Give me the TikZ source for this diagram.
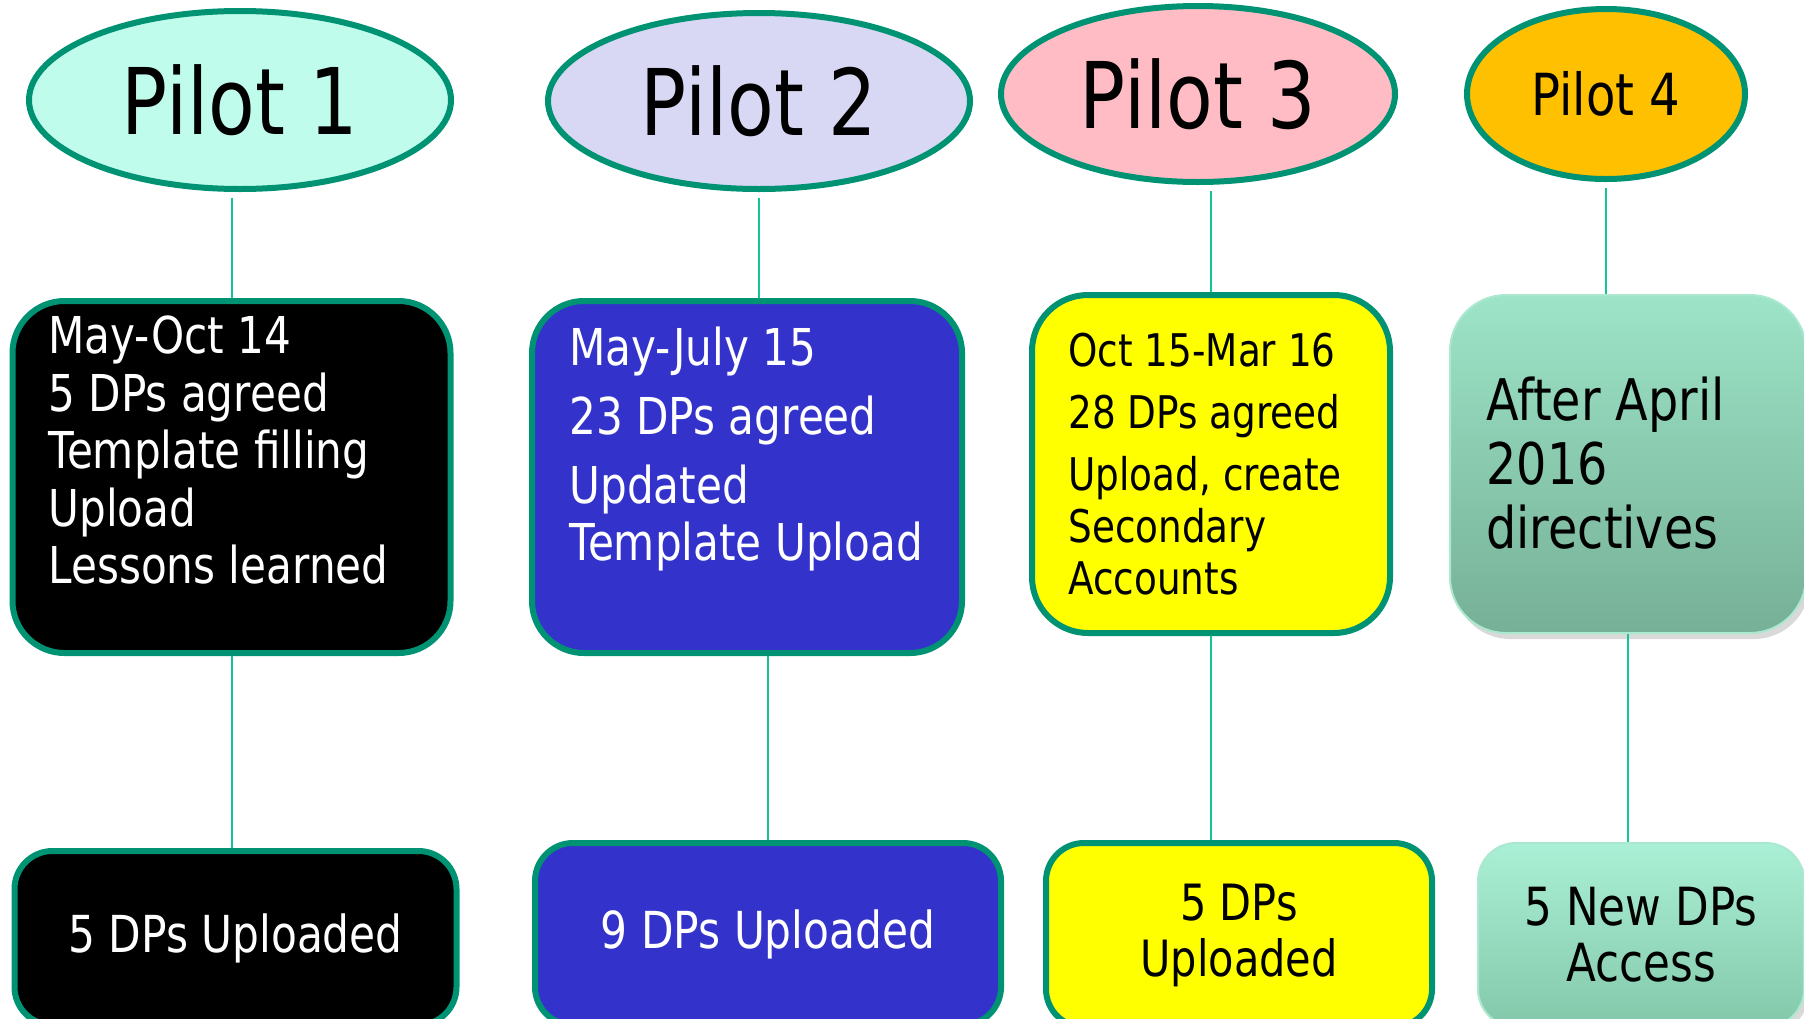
\documentclass[tikz,border=0pt]{standalone}
\usepackage{fontspec}
\setmainfont{DejaVu Sans}[FakeStretch=0.83]
\usetikzlibrary{shapes.geometric,shadows}

\definecolor{rimgreen}{RGB}{0,147,115}
\definecolor{linkteal}{RGB}{20,196,150}
\definecolor{pilotone}{RGB}{192,252,236}
\definecolor{pilottwo}{RGB}{216,216,244}
\definecolor{pilotthree}{RGB}{255,188,196}
\definecolor{pilotfour}{RGB}{255,192,0}
\definecolor{dpblue}{RGB}{51,51,204}
\definecolor{dpyellow}{RGB}{255,255,0}
\definecolor{mintedge}{RGB}{170,232,208}
\definecolor{minttop}{RGB}{157,228,200}
\definecolor{mintbot}{RGB}{118,176,150}
\definecolor{palemint}{RGB}{170,240,214}
\definecolor{deepmint}{RGB}{132,200,170}

\tikzset{
  pilot/.style={ellipse,draw=rimgreen,line width=3pt,inner sep=0pt},
  stage/.style={rectangle,rounded corners=26pt,draw=rimgreen,line width=3pt},
  result/.style={rectangle,rounded corners=19pt,draw=rimgreen,line width=3pt,align=center},
  notes/.style={anchor=west,align=left,inner sep=0pt},
  link/.style={draw=linkteal,line width=1pt},
}

\begin{document}
\begin{tikzpicture}[x=0.5pt,y=-0.5pt]
\useasboundingbox (0,0) rectangle (1804,1018);
\clip (0,0) rectangle (1804,1018);

% the four pilots
\node[pilot,fill=pilotone,minimum width=211pt,minimum height=89pt,font=\fontsize{46}{52}\selectfont] (p1) at (240,100) {Pilot 1};
\node[pilot,fill=pilottwo,minimum width=211pt,minimum height=88pt,font=\fontsize{46}{52}\selectfont] (p2) at (759,101) {Pilot 2};
\node[pilot,fill=pilotthree,minimum width=197pt,minimum height=88pt,font=\fontsize{46}{52}\selectfont] (p3) at (1198,94) {Pilot 3};
\node[pilot,fill=pilotfour,minimum width=139pt,minimum height=85pt,font=\fontsize{29}{33}\selectfont] (p4) at (1606,94) {Pilot 4};

% what each pilot did
\node[stage,fill=black,minimum width=219pt,minimum height=176pt] (d1) at (231.5,477) {};
\node[stage,fill=dpblue,minimum width=215pt,minimum height=176pt] (d2) at (747,477) {};
\node[stage,fill=dpyellow,minimum width=179pt,minimum height=169pt,rounded corners=28pt] (d3) at (1211,464) {};
\node[rectangle,rounded corners=28pt,draw=mintedge,line width=1pt,top color=minttop,bottom color=mintbot,
      drop shadow={shadow xshift=2pt,shadow yshift=-3pt,opacity=0.3},
      minimum width=178pt,minimum height=169pt] (d4) at (1628,464) {};

\node[notes,text=white,font=\fontsize{25.4}{28.75}\selectfont] (t1) at (48,450)
  {May-Oct 14\\5 DPs agreed\\Template filling\\Upload\\Lessons learned};
\node[notes,text=white,font=\fontsize{25.4}{28.5}\selectfont] (t2) at (569,449)
  {May-July 15\\[6pt]23 DPs agreed\\[6pt]Updated\\Template Upload};
\node[notes,font=\fontsize{22.5}{26}\selectfont] (t3) at (1068,464)
  {Oct 15-Mar 16\\[5pt]28 DPs agreed\\[5pt]Upload, create\\Secondary\\Accounts};
\node[notes,font=\fontsize{28.7}{32}\selectfont] (t4) at (1486,463)
  {After April\\2016\\directives};

% outcomes
\node[result,fill=black,text=white,minimum width=221pt,minimum height=87pt,font=\fontsize{25.5}{28}\selectfont] (u1) at (235.5,938) {5 DPs Uploaded};
\node[result,fill=dpblue,text=white,minimum width=233pt,minimum height=91pt,font=\fontsize{25.5}{28}\selectfont] (u2) at (768,934) {9 DPs Uploaded};
\node[result,fill=dpyellow,minimum width=193pt,minimum height=92pt,font=\fontsize{25}{28}\selectfont] (u3) at (1239,935) {5 DPs\\Uploaded};
\node[result,draw=mintedge,line width=1pt,top color=palemint,bottom color=deepmint,
      drop shadow={shadow xshift=2pt,shadow yshift=-3pt,opacity=0.3},
      minimum width=163pt,minimum height=92pt,font=\fontsize{26.3}{28}\selectfont] (u4) at (1641,935) {5 New DPs\\Access};

% connectors
\draw[link,shorten <=3pt] (d1.north |- p1.south) -- (d1.north);
\draw[link,shorten <=3pt] (p2.south) -- (p2.south |- d2.north);
\draw[link,shorten <=3pt] (d3.north |- p3.south) -- (d3.north);
\draw[link,shorten <=3pt] (p4.south) -- (p4.south |- d4.north);
\draw[link] (d1.south) -- (d1.south |- u1.north);
\draw[link] (u2.north |- d2.south) -- (u2.north);
\draw[link] (d3.south) -- (d3.south |- u3.north);
\draw[link] (d4.south) -- (d4.south |- u4.north);
\end{tikzpicture}
\end{document}
